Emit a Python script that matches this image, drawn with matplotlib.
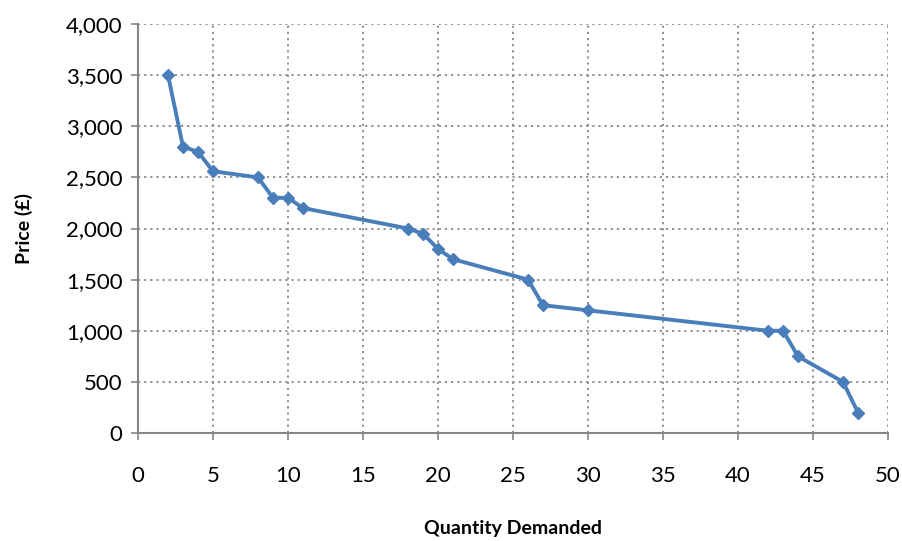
import matplotlib.pyplot as plt
from matplotlib.ticker import FuncFormatter

quantity = [2, 3, 4, 5, 8, 9, 10, 11, 18, 19, 20, 21, 26, 27, 30, 42, 43, 44, 47, 48]
price = [3500, 2800, 2750, 2560, 2500, 2300, 2300, 2200, 2000, 1950, 1800, 1700,
         1500, 1250, 1200, 1000, 1000, 750, 500, 200]

plt.rcParams['font.family'] = ['Lato', 'DejaVu Sans']

fig = plt.figure(figsize=(9.02, 5.41), dpi=100)
ax = fig.add_axes([0.153, 0.1996, 0.8315, 0.756])

ax.plot(quantity, price, color='#4A7EBB', linewidth=2.8, marker='D', markersize=6.5,
        markerfacecolor='#4A7EBB', markeredgecolor='#4A7EBB', zorder=3)

ax.set_xlim(0, 50)
ax.set_ylim(0, 4000)
ax.set_xticks(range(0, 51, 5))
ax.set_yticks(range(0, 4001, 500))
ax.yaxis.set_major_formatter(FuncFormatter(lambda v, p: f"{int(v):,}"))

ax.grid(True, color='#888888', linestyle=(0, (1.2, 2.2)), linewidth=1.3)
ax.set_axisbelow(True)

for s in ['top', 'right']:
    ax.spines[s].set_visible(False)
for s in ['left', 'bottom']:
    ax.spines[s].set_color('#868686')
    ax.spines[s].set_linewidth(1.5)

ax.tick_params(axis='both', direction='out', length=5, width=1.2, color='#868686',
               labelsize=16, labelcolor='black', pad=6)
ax.tick_params(axis='x', pad=19)

ax.set_xlabel('Quantity Demanded', fontsize=14, fontweight='bold', labelpad=24)
ax.set_ylabel('Price (£)', fontsize=14, fontweight='bold', labelpad=24)

fig.savefig('out.png', dpi=100)
